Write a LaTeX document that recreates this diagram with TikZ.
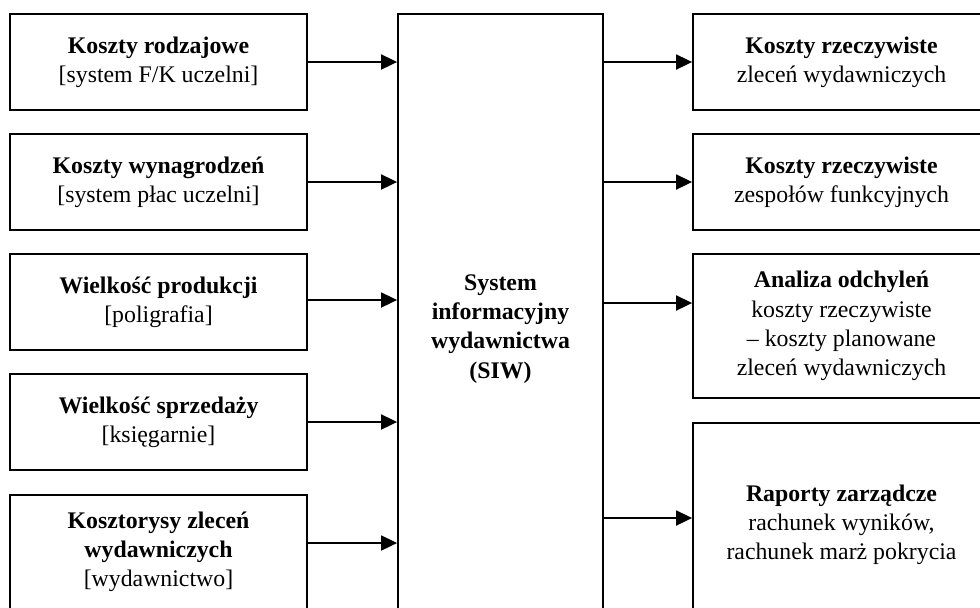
\documentclass[tikz,border=0pt]{standalone}
\usepackage{fontspec}
\setmainfont{Liberation Serif}
\usetikzlibrary{arrows.meta}

\begin{document}
\begin{tikzpicture}[x=0.5pt,y=-0.5pt,
        box/.style={draw,line width=0.9pt,align=center,inner sep=2pt,
            minimum width=148.5pt,minimum height=48pt,
            font=\fontsize{11.9}{14.6}\selectfont},
        arr/.style={line width=0.9pt,-{Triangle[length=8pt,width=7.5pt]}}]
            \useasboundingbox (0,0) rectangle (980,607);
            % zrodla danych
            \node[box] (b1) at (158.5,62) {\textbf{Koszty rodzajowe}\\{}[system F/K uczelni]};
            \node[box] (b2) at (158.5,182) {\textbf{Koszty wynagrodzeń}\\{}[system płac uczelni]};
            \node[box] (b3) at (158.5,302) {\textbf{Wielkość produkcji}\\{}[poligrafia]};
            \node[box] (b4) at (158.5,422) {\textbf{Wielkość sprzedaży}\\{}[księgarnie]};
            \node[box,minimum height=57pt] (b5) at (158.5,552) {\textbf{Kosztorysy zleceń}\\\textbf{wydawniczych}\\{}[wydawnictwo]};
            % system
            \node[box,minimum width=102.5pt,minimum height=315pt] (siw) at (500.5,329)
                {\textbf{System}\\\textbf{informacyjny}\\\textbf{wydawnictwa}\\\textbf{(SIW)}};
            % wyniki
            \node[box] (r1) at (841.5,62) {\textbf{Koszty rzeczywiste}\\zleceń wydawniczych};
            \node[box] (r2) at (841.5,182) {\textbf{Koszty rzeczywiste}\\zespołów funkcyjnych};
            \node[box,minimum height=72pt] (r3) at (841.5,326) {\textbf{Analiza odchyleń}\\koszty rzeczywiste\\– koszty planowane\\zleceń wydawniczych};
            \node[box,minimum height=102pt] (r4) at (841.5,525) {\textbf{Raporty zarządcze}\\rachunek wyników,\\rachunek marż pokrycia};
            \foreach \n/\s in {b1/0,b2/0,b3/1,b4/0,b5/4.5}
                \draw[arr] ([yshift=\s pt]\n.east) -- ([yshift=\s pt]\n.east -| siw.west);
            \foreach \n/\s in {r1/0,r2/0,r3/11.5,r4/3.5}
                \draw[arr] ([yshift=\s pt]\n.west -| siw.east) -- ([yshift=\s pt]\n.west);
        \end{tikzpicture}
\end{document}
